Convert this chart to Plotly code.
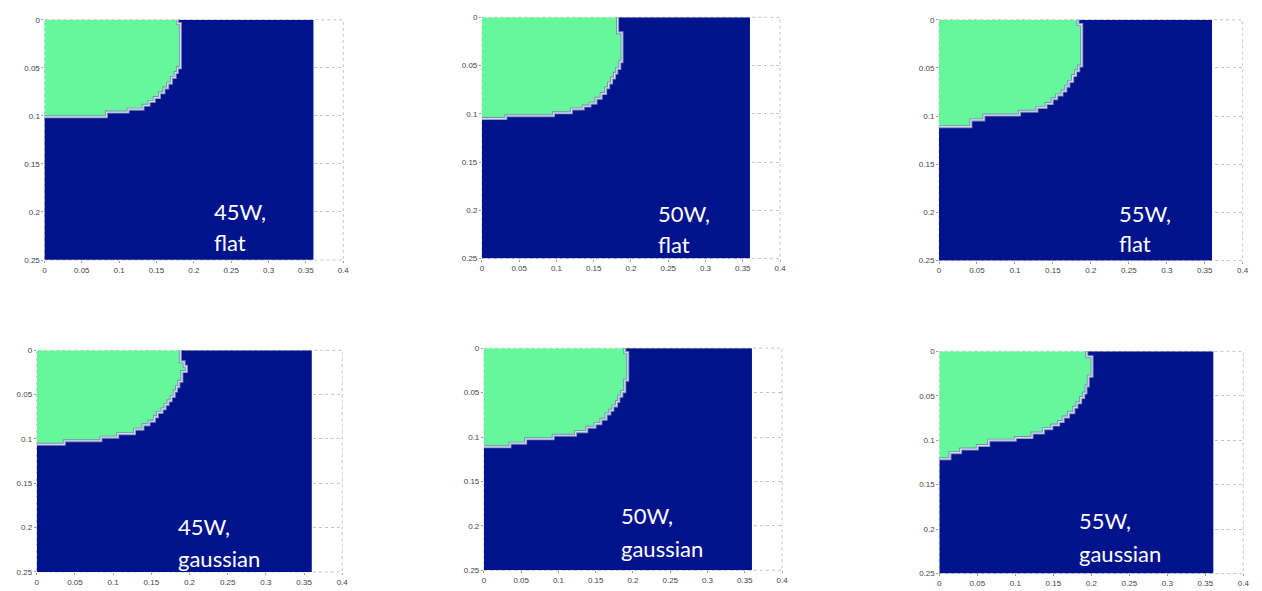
import plotly.graph_objects as go

# ---------------- data ----------------
powers = ["45W,", "50W,", "55W,", "45W,", "50W,", "55W,"]
profiles = ["flat", "flat", "flat", "gaussian", "gaussian", "gaussian"]

x_max = 0.36   # extent of the simulated domain (m)
y_max = 0.25

# melt-zone boundary: depth breakpoints and green width in each depth band
p1_depths = [0, 0.004, 0.050, 0.055, 0.060, 0.066, 0.071, 0.076, 0.081, 0.085, 0.089, 0.093, 0.096, 0.101]
p1_widths = [0.178, 0.182, 0.178, 0.175, 0.170, 0.165, 0.160, 0.154, 0.147, 0.140, 0.132, 0.112, 0.083]

p2_depths = [0, 0.016, 0.046, 0.053, 0.058, 0.063, 0.068, 0.073, 0.079, 0.084, 0.089, 0.092, 0.095, 0.099, 0.102, 0.105]
p2_widths = [0.182, 0.188, 0.185, 0.181, 0.178, 0.174, 0.170, 0.166, 0.160, 0.153, 0.145, 0.136, 0.120, 0.096, 0.032]

p3_depths = [0, 0.005, 0.048, 0.053, 0.058, 0.064, 0.069, 0.074, 0.078, 0.082, 0.087, 0.091, 0.095, 0.099, 0.104, 0.111]
p3_widths = [0.183, 0.188, 0.184, 0.180, 0.176, 0.171, 0.167, 0.162, 0.155, 0.149, 0.141, 0.129, 0.106, 0.059, 0.042]

p4_depths = [0, 0.013, 0.018, 0.024, 0.035, 0.041, 0.046, 0.052, 0.057, 0.061, 0.066, 0.070, 0.075, 0.080, 0.084, 0.089, 0.094, 0.098, 0.102, 0.106]
p4_widths = [0.188, 0.193, 0.196, 0.190, 0.186, 0.183, 0.180, 0.176, 0.172, 0.168, 0.164, 0.158, 0.154, 0.147, 0.139, 0.128, 0.106, 0.084, 0.036]

p5_depths = [0, 0.005, 0.036, 0.049, 0.054, 0.060, 0.065, 0.070, 0.074, 0.080, 0.085, 0.089, 0.094, 0.098, 0.102, 0.107, 0.111]
p5_widths = [0.189, 0.193, 0.189, 0.185, 0.181, 0.178, 0.173, 0.169, 0.164, 0.157, 0.149, 0.138, 0.123, 0.093, 0.056, 0.035]

p6_depths = [0, 0.006, 0.028, 0.039, 0.047, 0.052, 0.058, 0.063, 0.069, 0.074, 0.079, 0.083, 0.087, 0.092, 0.097, 0.100, 0.106, 0.110, 0.114, 0.121]
p6_widths = [0.194, 0.201, 0.196, 0.193, 0.190, 0.186, 0.181, 0.177, 0.170, 0.163, 0.157, 0.148, 0.137, 0.122, 0.100, 0.065, 0.050, 0.028, 0.014]

tick_x = [0, 0.05, 0.1, 0.15, 0.2, 0.25, 0.3, 0.35, 0.4]
tick_x_text = ["0", "0.05", "0.1", "0.15", "0.2", "0.25", "0.3", "0.35", "0.4"]
tick_y = [0, 0.05, 0.1, 0.15, 0.2, 0.25]
tick_y_text = ["0", "0.05", "0.1", "0.15", "0.2", "0.25"]

# ---------------- layout geometry (pixels) ----------------
W, H = 1262, 591
# left, right(x=0.4), top(y=0), bottom(y=0.25)
panel_px = [
    (42.7, 343.4, 16.0, 260.0),
    (483.0, 783.0, 13.5, 258.5),
    (943.0, 1248.6, 16.0, 260.5),
    (35.0, 342.4, 351.7, 576.7),
    (485.0, 785.0, 349.5, 575.0),
    (943.3, 1249.2, 352.7, 578.3),
]
# text positions (left x in data units, y centres of the two lines)
text_pos = [
    (0.224, 0.199, 0.232),
    (0.233, 0.203, 0.235),
    (0.234, 0.201, 0.232),
    (0.182, 0.199, 0.235),
    (0.181, 0.188, 0.226),
    (0.181, 0.190, 0.227),
]

NAVY = "#00138c"
GREEN = "#66f79c"
GRID = "#c4c4c4"

panels = [
    (p1_depths, p1_widths), (p2_depths, p2_widths), (p3_depths, p3_widths),
    (p4_depths, p4_widths), (p5_depths, p5_widths), (p6_depths, p6_widths),
]

fig = go.Figure()
layout_axes = {}
annotations = []
shapes = []

for i, (depths, widths) in enumerate(panels):
    n = i + 1
    xa = "x" if n == 1 else f"x{n}"
    ya = "y" if n == 1 else f"y{n}"

    # heatmap of the melt mask with cell edges from the boundary data
    x_edges = sorted(set([0.0, x_max] + widths))
    y_edges = list(depths) + [y_max]
    z = []
    for r in range(len(y_edges) - 1):
        row = []
        for c in range(len(x_edges) - 1):
            right = x_edges[c + 1]
            if r < len(widths) and right <= widths[r] + 1e-12:
                row.append(1)
            else:
                row.append(0)
        z.append(row)
    fig.add_trace(go.Heatmap(
        x=x_edges, y=y_edges, z=z, zmin=0, zmax=1,
        colorscale=[[0, NAVY], [1, GREEN]], showscale=False,
        hoverinfo="skip", xaxis=xa, yaxis=ya,
    ))

    # staircase outline of the melt zone
    bx, by = [], []
    for k, w in enumerate(widths):
        bx += [w, w]
        by += [depths[k], depths[k + 1]]
    bx.append(0)
    by.append(depths[len(widths)])
    fig.add_trace(go.Scatter(x=bx, y=by, mode="lines",
                             line=dict(color="#7d8cb0", width=3),
                             hoverinfo="skip", showlegend=False, xaxis=xa, yaxis=ya))
    fig.add_trace(go.Scatter(x=bx, y=by, mode="lines",
                             line=dict(color="#d2ddf5", width=1.2),
                             hoverinfo="skip", showlegend=False, xaxis=xa, yaxis=ya))

    L, R, T, B = panel_px[i]
    axis_common = dict(
        showgrid=True, gridcolor=GRID, griddash="dot", gridwidth=1,
        zeroline=False, showline=False, ticks="outside", ticklen=2,
        tickcolor="#999999", tickfont=dict(family="Arial", size=8, color="#444444"),
    )
    layout_axes["xaxis" if n == 1 else f"xaxis{n}"] = dict(
        axis_common, domain=[L / W, R / W], range=[0, 0.4],
        tickvals=tick_x, ticktext=tick_x_text, anchor=ya, fixedrange=True,
    )
    layout_axes["yaxis" if n == 1 else f"yaxis{n}"] = dict(
        axis_common, domain=[1 - B / H, 1 - T / H], range=[y_max, 0],
        tickvals=tick_y, ticktext=tick_y_text, anchor=xa, fixedrange=True,
    )

    # dotted box around the plot area
    shapes.append(dict(type="rect", xref=f"{xa} domain", yref=f"{ya} domain",
                       x0=0, x1=1, y0=0, y1=1, layer="below",
                       line=dict(color=GRID, width=1, dash="dot")))

    tx, ty1, ty2 = text_pos[i]
    for label, ty in ((powers[i], ty1), (profiles[i], ty2)):
        annotations.append(dict(
            x=tx, y=ty, xref=xa, yref=ya, text=label, showarrow=False,
            xanchor="left", yanchor="middle",
            font=dict(family="Lato", size=22, color="white"),
        ))

fig.update_layout(
    width=W, height=H, margin=dict(l=0, r=0, t=0, b=0),
    paper_bgcolor="white", plot_bgcolor="white", showlegend=False,
    annotations=annotations, shapes=shapes, **layout_axes,
)

fig.write_html("out.html")
